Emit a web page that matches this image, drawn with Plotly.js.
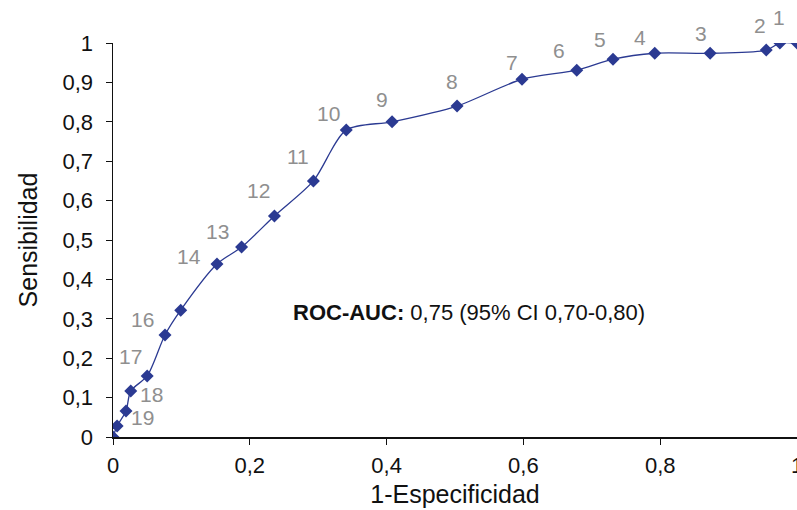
<!DOCTYPE html>
<html><head><meta charset="utf-8">
<script src="https://cdn.plot.ly/plotly-3.0.1.min.js"></script>
<style>body{margin:0;background:#fff}#c{width:797px;height:510px}</style>
</head><body><div id="c"></div>
<script>
// ROC curve points (1-Especificidad, Sensibilidad), from origin to (1,1)
const fpr = [0, 0.006, 0.019, 0.026, 0.050, 0.076, 0.099, 0.152, 0.188, 0.236, 0.293, 0.341, 0.408, 0.503, 0.598, 0.678, 0.731, 0.792, 0.873, 0.955, 0.975, 1.0];
const sens = [0, 0.028, 0.066, 0.117, 0.155, 0.259, 0.322, 0.439, 0.482, 0.561, 0.650, 0.779, 0.800, 0.840, 0.908, 0.931, 0.959, 0.974, 0.974, 0.982, 1.0, 1.0];
const cutLabels = ["", "", "19", "18", "17", "16", "", "14", "13", "12", "11", "10", "9", "8", "7", "6", "5", "4", "3", "2", "1", ""];
// label offsets in pixels (dx, dy) relative to point
const labDx = [0, 0, 16, 21, -17, -22, 0, -28, -24, -16, -15, -18, -10, -5, -10, -18, -13, -15, -9, -6, -1, 0];
const labDy = [0, 0, -6, -4, 19, 15, 0, 8, 16, 25, 24, 17, 22, 25, 17, 20, 20, 16, 20, 25, 26, 0];

const ticksY = [0, 0.1, 0.2, 0.3, 0.4, 0.5, 0.6, 0.7, 0.8, 0.9, 1];
const ticksX = [0, 0.2, 0.4, 0.6, 0.8, 1];

const annotations = [];
for (let i = 0; i < fpr.length; i++) {
  if (!cutLabels[i]) continue;
  annotations.push({x: fpr[i], y: sens[i], xref: 'x', yref: 'y', text: cutLabels[i],
    showarrow: false, xshift: labDx[i], yshift: labDy[i],
    font: {family: 'Liberation Sans, Arial', size: 21, color: '#8f8f8f'}});
}
annotations.push({x: 0.52, y: 0.315, xref: 'x', yref: 'y', showarrow: false,
  text: '<b>ROC-AUC:</b> 0,75 (95% CI 0,70-0,80)',
  font: {family: 'Liberation Sans, Arial', size: 22, color: '#111'}});

Plotly.newPlot('c', [{
  x: fpr, y: sens, type: 'scatter', mode: 'lines+markers',
  line: {color: '#2b3a92', width: 1.3, shape: 'spline', smoothing: 0.8},
  marker: {symbol: 'diamond', size: 10, color: '#2b3a92'},
  cliponaxis: true, hoverinfo: 'skip'
}], {
  width: 797, height: 510,
  margin: {l: 113, r: 0, t: 43, b: 73},
  paper_bgcolor: '#fff', plot_bgcolor: '#fff',
  separators: ',.',
  showlegend: false,
  font: {family: 'Liberation Sans, Arial', size: 22, color: '#111'},
  xaxis: {range: [0, 1], tickvals: ticksX, showgrid: false, zeroline: false,
    showline: true, linecolor: '#111', linewidth: 1.5, ticks: 'outside', ticklen: 6, tickcolor: '#111',
    ticklabelstandoff: 2, ticklabeloverflow: 'allow',
    tickfont: {size: 22}, title: {text: '1-Especificidad', font: {size: 25}, standoff: 8}},
  yaxis: {range: [0, 1], tickvals: ticksY, showgrid: false, zeroline: false,
    showline: true, linecolor: '#111', linewidth: 1.5, ticks: 'outside', ticklen: 6, tickcolor: '#111',
    ticklabelstandoff: 8, ticklabeloverflow: 'allow',
    tickfont: {size: 22}, title: {text: 'Sensibilidad', font: {size: 25}, standoff: 18}},
  annotations: annotations
}, {staticPlot: true});
</script></body></html>
